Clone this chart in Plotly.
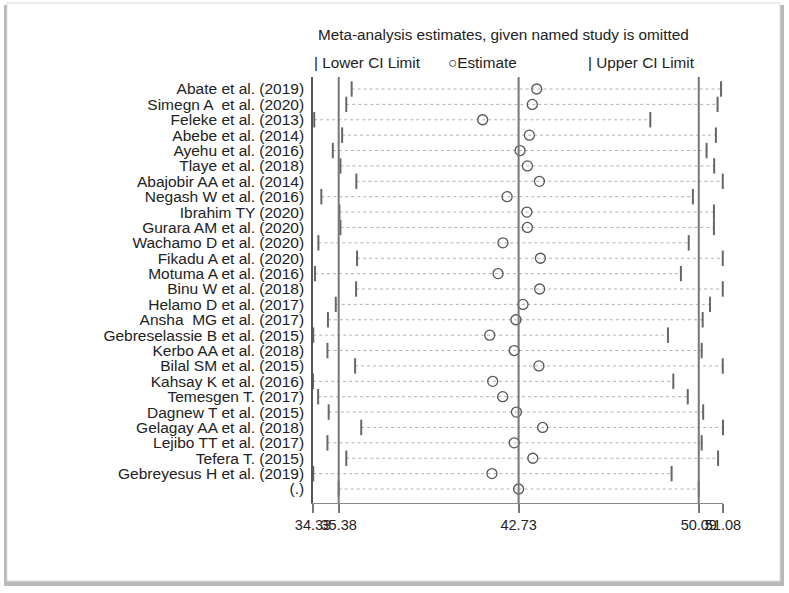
import plotly.graph_objects as go

studies = [
    "Abate et al. (2019)", "Simegn A  et al. (2020)", "Feleke et al. (2013)",
    "Abebe et al. (2014)", "Ayehu et al. (2016)", "Tlaye et al. (2018)",
    "Abajobir AA et al. (2014)", "Negash W et al. (2016)", "Ibrahim TY (2020)",
    "Gurara AM et al. (2020)", "Wachamo D et al. (2020)", "Fikadu A et al. (2020)",
    "Motuma A et al. (2016)", "Binu W et al. (2018)", "Helamo D et al. (2017)",
    "Ansha  MG et al. (2017)", "Gebreselassie B et al. (2015)", "Kerbo AA et al. (2018)",
    "Bilal SM et al. (2015)", "Kahsay K et al. (2016)", "Temesgen T. (2017)",
    "Dagnew T et al. (2015)", "Gelagay AA et al. (2018)", "Lejibo TT et al. (2017)",
    "Tefera T. (2015)", "Gebreyesus H et al. (2019)", "(.)",
]
estimate = [43.47, 43.29, 41.26, 43.17, 42.79, 43.09, 43.58, 42.26, 43.07,
            43.09, 42.09, 43.62, 41.89, 43.59, 42.91, 42.62, 41.55, 42.55,
            43.56, 41.67, 42.08, 42.64, 43.71, 42.55, 43.31, 41.64, 42.73]
lower = [35.91, 35.69, 34.38, 35.52, 35.14, 35.45, 36.10, 34.67, 35.41,
         35.45, 34.55, 36.13, 34.41, 36.09, 35.26, 34.94, 34.34, 34.92,
         36.05, 34.33, 34.54, 34.97, 36.30, 34.92, 35.69, 34.34, 35.38]
upper = [51.00, 50.86, 48.11, 50.79, 50.41, 50.72, 51.07, 49.85, 50.71,
         50.71, 49.68, 51.07, 49.36, 51.07, 50.55, 50.25, 48.83, 50.21,
         51.07, 49.05, 49.64, 50.27, 51.08, 50.21, 50.88, 48.98, 50.09]
ref_lines = [35.38, 42.73, 50.09]
x_ticks = [34.33, 35.38, 42.73, 50.09, 51.08]
x_tick_text = ["34.33", "35.38", "42.73", "50.09", "51.08"]

rows = list(range(1, len(studies) + 1))
FONT = "Liberation Sans, Arial, sans-serif"

W, H = 789, 593
ML, MR, MT, MB = 313, 66, 77, 90
PW, PH = W - ML - MR, H - MT - MB


def px(xp):
    return (xp - ML) / PW


def py(yp):
    return (H - MB - yp) / PH


fig = go.Figure()

# dotted CI lines
seg_x, seg_y = [], []
for lo, up, r in zip(lower, upper, rows):
    seg_x += [lo, up, None]
    seg_y += [r, r, None]
fig.add_trace(go.Scatter(x=seg_x, y=seg_y, mode="lines",
                         line=dict(color="#b0b0b0", width=1, dash="dot"),
                         hoverinfo="skip", showlegend=False))

# CI limits
fig.add_trace(go.Scatter(x=lower, y=rows, mode="markers", name="Lower CI Limit",
                         marker=dict(symbol="line-ns", size=11,
                                     line=dict(color="#666666", width=2)),
                         showlegend=False, cliponaxis=False))
fig.add_trace(go.Scatter(x=upper, y=rows, mode="markers", name="Upper CI Limit",
                         marker=dict(symbol="line-ns", size=11,
                                     line=dict(color="#666666", width=2)),
                         showlegend=False, cliponaxis=False))
# estimates
fig.add_trace(go.Scatter(x=estimate, y=rows, mode="markers", name="Estimate",
                         marker=dict(symbol="circle-open", size=10, color="#555555",
                                     line=dict(color="#555555", width=1.3)),
                         showlegend=False, cliponaxis=False))

shapes = []
# frame with shadow
shapes.append(dict(type="rect", xref="paper", yref="paper",
                   x0=px(4), x1=px(784), y0=py(586), y1=py(5),
                   line=dict(width=0), fillcolor="#b8b8b8", layer="below"))
shapes.append(dict(type="rect", xref="paper", yref="paper",
                   x0=px(7), x1=px(780), y0=py(581), y1=py(3),
                   line=dict(color="#dddddd", width=1), fillcolor="white", layer="below"))
for v in ref_lines:
    shapes.append(dict(type="line", xref="x", yref="paper", x0=v, x1=v, y0=0, y1=1,
                       line=dict(color="#777777", width=2), layer="above"))

annotations = [
    dict(text="Meta-analysis estimates, given named study is omitted",
         x=px(316), y=py(35), xref="paper", yref="paper", xanchor="left",
         yanchor="middle", showarrow=False, font=dict(size=15.3, color="#222", family=FONT)),
    dict(text="| Lower CI Limit", x=px(312), y=py(62), xref="paper", yref="paper",
         xanchor="left", yanchor="middle", showarrow=False,
         font=dict(size=15.3, color="#222", family=FONT)),
    dict(text="○Estimate", x=px(446), y=py(62), xref="paper", yref="paper",
         xanchor="left", yanchor="middle", showarrow=False,
         font=dict(size=15.3, color="#222", family=FONT)),
    dict(text="| Upper CI Limit", x=px(586), y=py(62), xref="paper", yref="paper",
         xanchor="left", yanchor="middle", showarrow=False,
         font=dict(size=15.3, color="#222", family=FONT)),
]

fig.update_layout(
    width=W, height=H,
    margin=dict(l=ML, r=MR, t=MT, b=MB, pad=0),
    paper_bgcolor="white", plot_bgcolor="rgba(0,0,0,0)",
    shapes=shapes, annotations=annotations,
    font=dict(family=FONT, color="#222"),
    showlegend=False,
)
fig.update_xaxes(range=[34.33, 51.08], tickvals=x_ticks, ticktext=x_tick_text,
                 tickangle=0, ticks="outside", ticklen=9, tickwidth=1.5,
                 tickcolor="#777777", showline=True, linecolor="#888888", linewidth=1,
                 showgrid=False, zeroline=False, tickfont=dict(size=14.5, color="#222"))
fig.update_yaxes(range=[27.91, 0.22], tickvals=rows, ticktext=studies, ticks="",
                 showline=True, linecolor="#555555", linewidth=1.5, showgrid=False,
                 zeroline=False, ticklabelstandoff=4,
                 tickfont=dict(size=15.5, color="#222"))

fig.write_html("out.html", config={"displayModeBar": False},
               post_script="document.body.style.margin='0';document.body.style.overflow='hidden';")
